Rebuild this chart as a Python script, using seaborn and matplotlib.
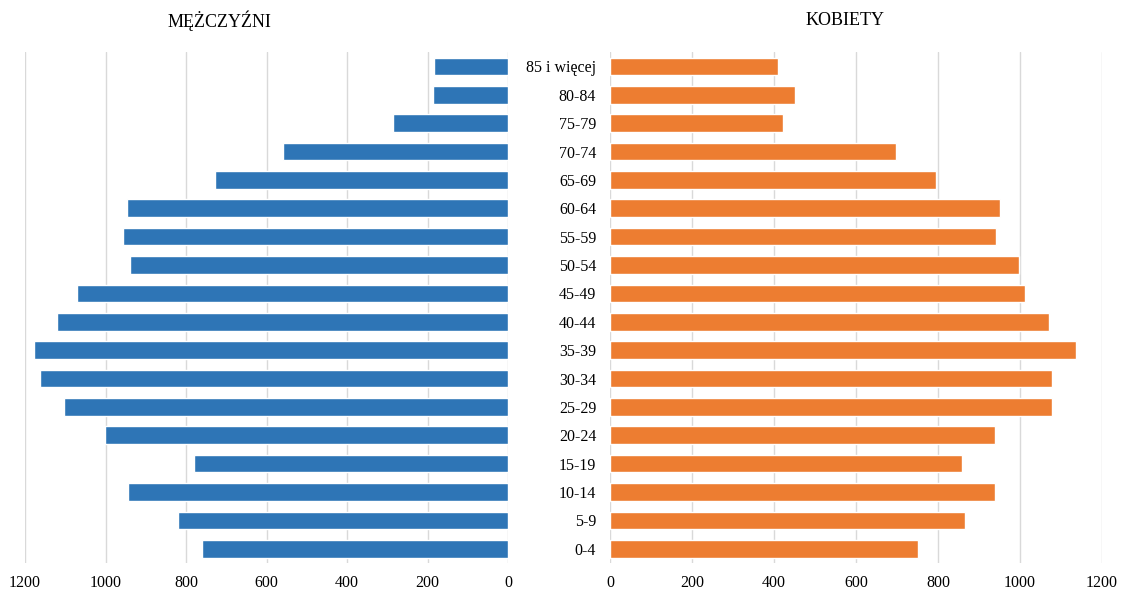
import pandas as pd
import seaborn as sns
import matplotlib.pyplot as plt

age_groups = ['85 i więcej', '80-84', '75-79', '70-74', '65-69', '60-64', '55-59',
              '50-54', '45-49', '40-44', '35-39', '30-34', '25-29', '20-24',
              '15-19', '10-14', '5-9', '0-4']
men = [185, 187, 286, 559, 729, 947, 957, 939, 1071, 1120, 1178, 1162, 1104, 1001,
       780, 944, 821, 760]
women = [409, 450, 422, 697, 795, 952, 942, 998, 1012, 1071, 1137, 1077, 1077, 939,
         858, 939, 866, 750]
x_ticks = [0, 200, 400, 600, 800, 1000, 1200]

d = pd.DataFrame({'age': age_groups, 'men': men, 'women': women})

sns.set_style('white')
plt.rcParams['font.family'] = ['Liberation Serif', 'DejaVu Serif']
plt.rcParams['text.color'] = 'black'
plt.rcParams['xtick.color'] = 'black'
plt.rcParams['ytick.color'] = 'black'

fig = plt.figure(figsize=(11.22, 5.96), dpi=100)
ax_m = fig.add_axes([0.0223, 0.0554, 0.4305, 0.857])
ax_w = fig.add_axes([0.5437, 0.0554, 0.4385, 0.857])

sns.barplot(ax=ax_m, data=d, x='men', y='age', color='#2E75B6', saturation=1, width=0.62)
sns.barplot(ax=ax_w, data=d, x='women', y='age', color='#ED7D31', saturation=1, width=0.62)

ax_m.set_xlim(1200, 0)
ax_w.set_xlim(0, 1200)
for ax in (ax_m, ax_w):
    ax.set_xticks(x_ticks, [str(t) for t in x_ticks], fontsize=11.5)
    ax.grid(axis='x', color='#D9D9D9', linewidth=1)
    ax.set_axisbelow(True)
    for s in ax.spines.values():
        s.set_visible(False)
    ax.tick_params(axis='both', length=0)
    ax.tick_params(axis='x', pad=9)
    ax.set_xlabel('')
    ax.set_ylabel('')
    ax.set_ylim(17.5, -0.5)

ax_m.set_yticks([])
ax_w.tick_params(axis='y', pad=10, labelsize=11.5)
for lbl in ax_w.get_yticklabels():
    lbl.set_ha('right')

fig.text(0.196, 0.965, 'MĘŻCZYŹNI', ha='center', va='center', fontsize=13)
fig.text(0.753, 0.965, 'KOBIETY', ha='center', va='center', fontsize=13)

fig.savefig('out.png', dpi=100)
